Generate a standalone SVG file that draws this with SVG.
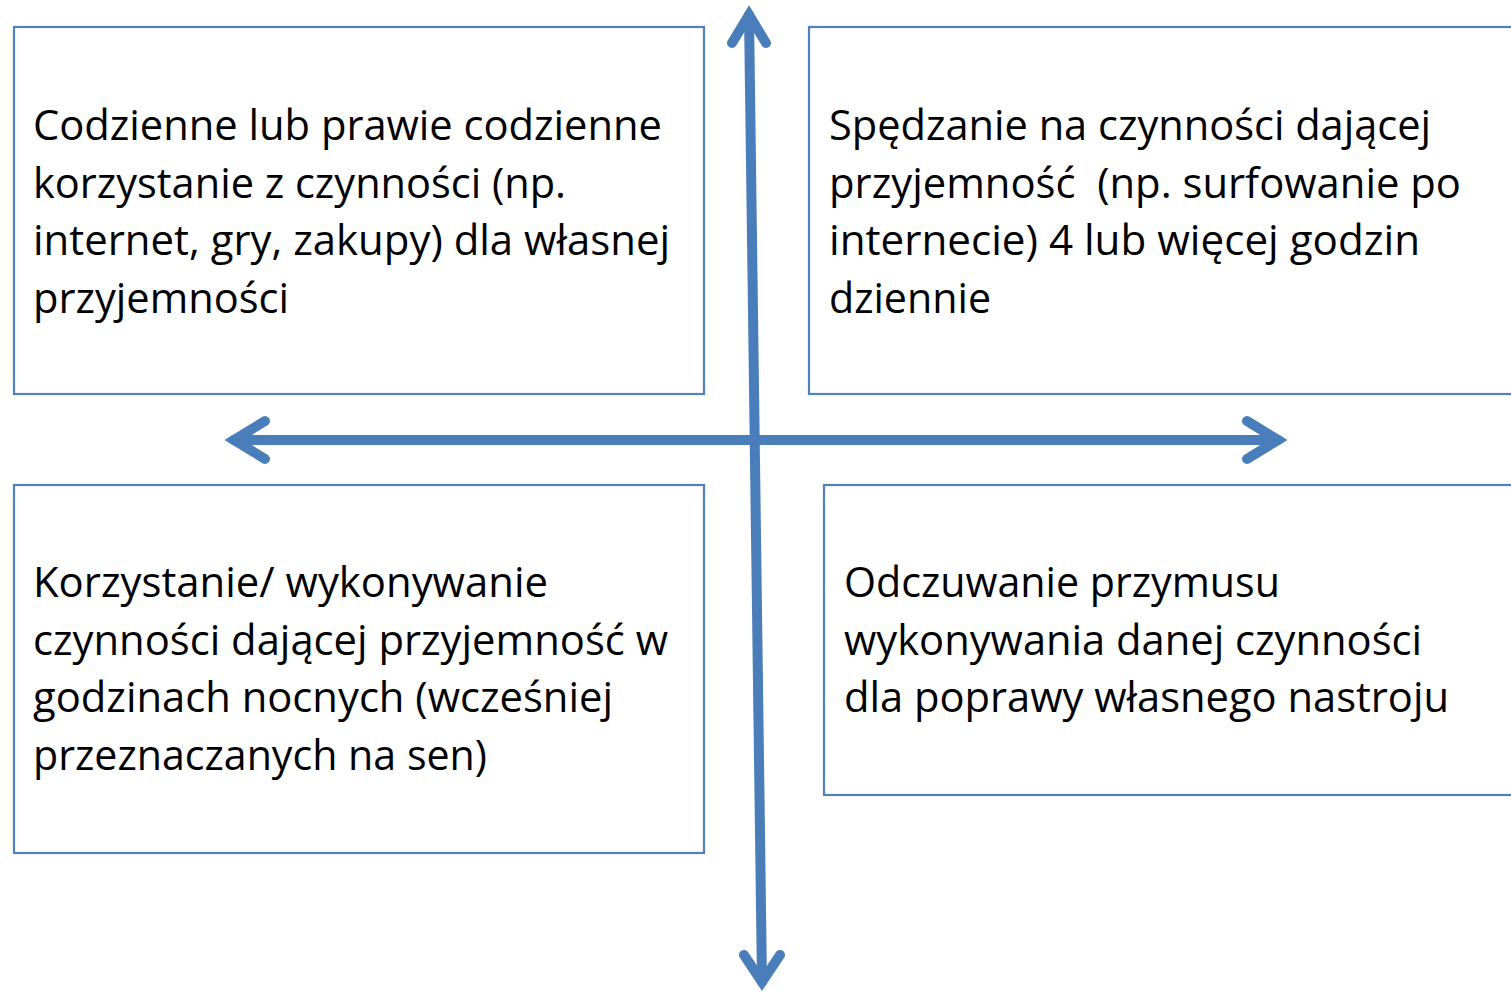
<svg xmlns="http://www.w3.org/2000/svg" width="1511" height="992" viewBox="0 0 1511 992">
<style>
.box{fill:#ffffff;stroke:#4f81bd;stroke-width:2.2}
.t{font-family:"Open Sans","Noto Sans","Liberation Sans",sans-serif;font-size:42px;fill:#000000}
.ax{fill:none;stroke:#4a7ebb;stroke-width:10;stroke-linecap:round;stroke-linejoin:miter;stroke-miterlimit:10}
</style>
<rect width="1511" height="992" fill="#ffffff"/>
<g id="box1">
<rect class="box" x="14" y="27" width="690" height="367"/>
<text class="t"><tspan x="33" y="140" textLength="629" lengthAdjust="spacingAndGlyphs">Codzienne lub prawie codzienne</tspan><tspan x="33" y="197.5" textLength="533" lengthAdjust="spacingAndGlyphs">korzystanie z czynności (np.</tspan><tspan x="33" y="255" textLength="637" lengthAdjust="spacingAndGlyphs">internet, gry, zakupy) dla własnej</tspan><tspan x="33" y="312.5" textLength="256" lengthAdjust="spacingAndGlyphs">przyjemności</tspan></text>
</g>
<g id="box2">
<rect class="box" x="809" y="27" width="720" height="367"/>
<text class="t"><tspan x="829" y="140" textLength="602" lengthAdjust="spacingAndGlyphs">Spędzanie na czynności dającej</tspan><tspan x="829" y="197.5" textLength="632" lengthAdjust="spacingAndGlyphs">przyjemność&#160; (np. surfowanie po</tspan><tspan x="829" y="255" textLength="591" lengthAdjust="spacingAndGlyphs">internecie) 4 lub więcej godzin</tspan><tspan x="829" y="312.5" textLength="162" lengthAdjust="spacingAndGlyphs">dziennie</tspan></text>
</g>
<g id="box3">
<rect class="box" x="14" y="485" width="690" height="368"/>
<text class="t"><tspan x="33" y="597" textLength="515" lengthAdjust="spacingAndGlyphs">Korzystanie/ wykonywanie</tspan><tspan x="33" y="654.5" textLength="635" lengthAdjust="spacingAndGlyphs">czynności dającej przyjemność w</tspan><tspan x="33" y="712" textLength="580" lengthAdjust="spacingAndGlyphs">godzinach nocnych (wcześniej</tspan><tspan x="33" y="769.5" textLength="454" lengthAdjust="spacingAndGlyphs">przeznaczanych na sen)</tspan></text>
</g>
<g id="box4">
<rect class="box" x="824" y="485" width="705" height="310"/>
<text class="t"><tspan x="844" y="597" textLength="436" lengthAdjust="spacingAndGlyphs">Odczuwanie przymusu</tspan><tspan x="844" y="654.5" textLength="578" lengthAdjust="spacingAndGlyphs">wykonywania danej czynności</tspan><tspan x="844" y="712" textLength="605" lengthAdjust="spacingAndGlyphs">dla poprawy własnego nastroju</tspan></text>
</g>
<g id="connectors">
<line class="ax" x1="234" y1="440" x2="1278" y2="440"/>
<polyline class="ax" points="265,421 234,440 265,459"/>
<polyline class="ax" points="1247,421 1278,440 1247,459"/>
<line class="ax" x1="749" y1="15" x2="762" y2="982"/>
<polyline class="ax" points="732,43 749,15 766,43"/>
<polyline class="ax" points="744,955 762,982 780,955"/>
</g>
</svg>
